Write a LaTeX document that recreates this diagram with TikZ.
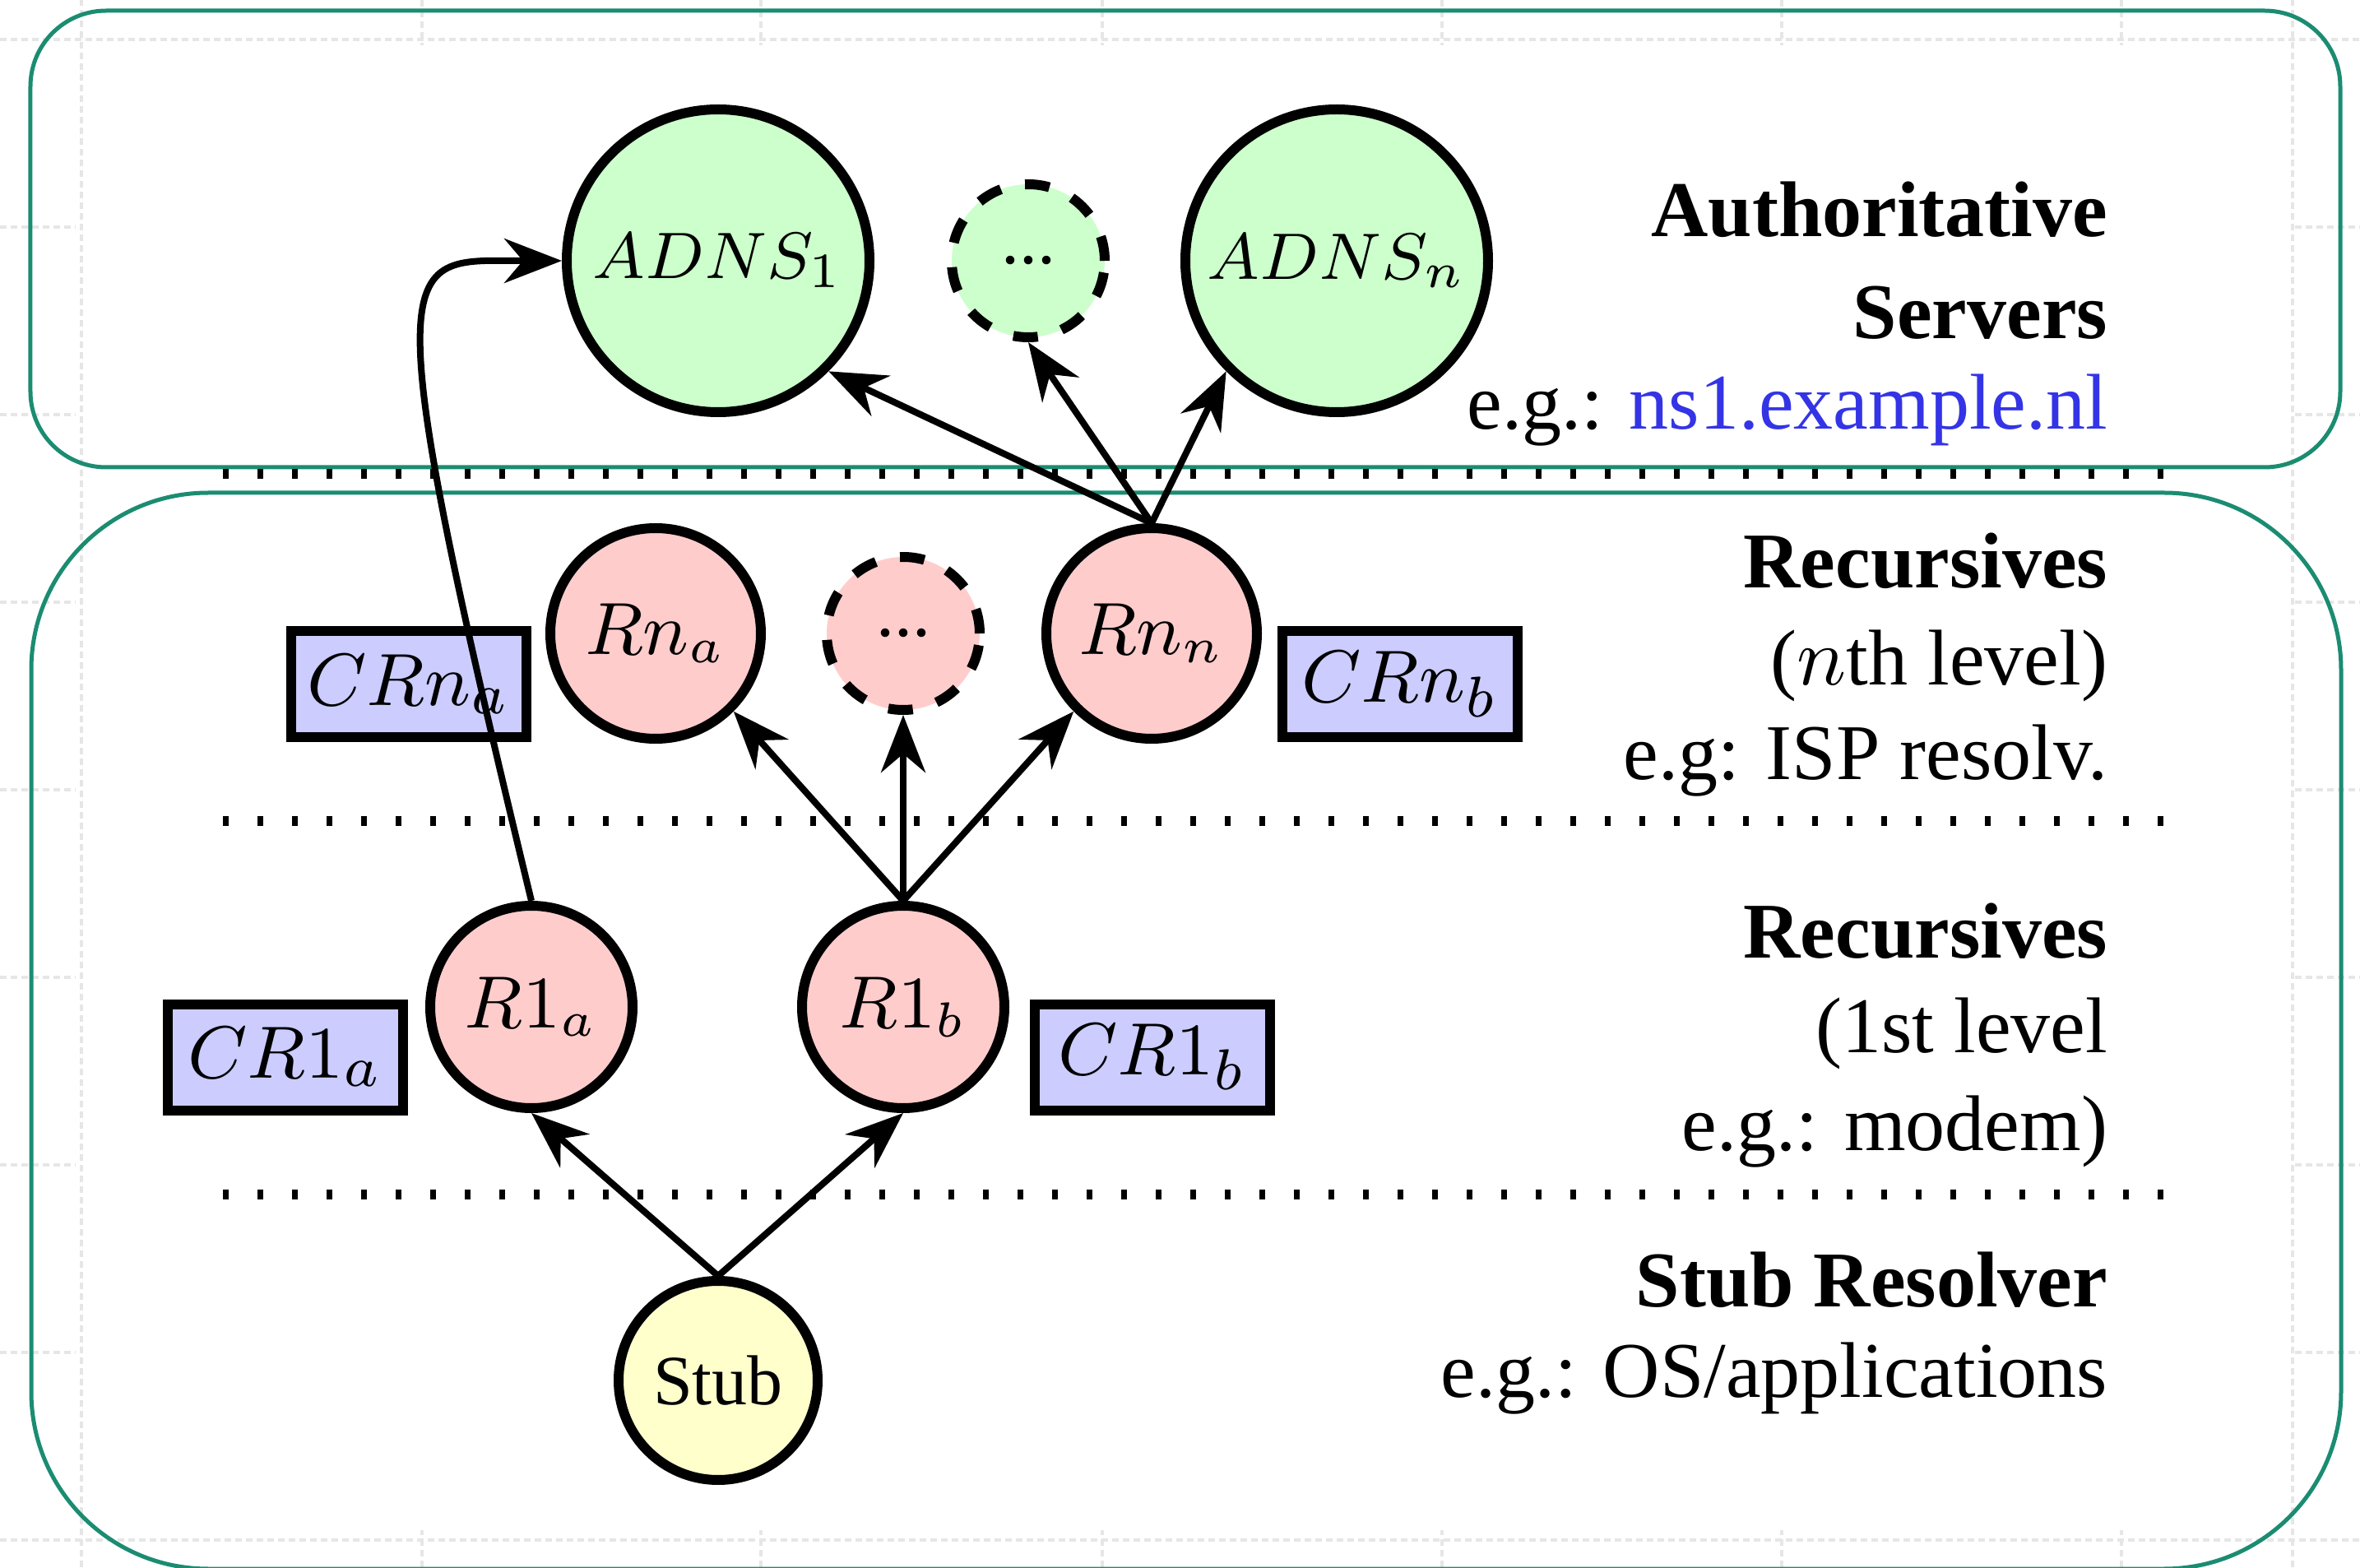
\documentclass[tikz,border=0pt]{standalone}
\usepackage[no-math]{fontspec}
\setmainfont{Liberation Serif}
\usetikzlibrary{arrows.meta}
\definecolor{zonegreen}{HTML}{1B8C72}
\definecolor{adnsfill}{HTML}{CCFFCC}
\definecolor{recfill}{HTML}{FFCCCC}
\definecolor{cachefill}{HTML}{CCCCFF}
\definecolor{stubfill}{HTML}{FFFFCC}
\definecolor{link}{HTML}{3434E6}
\definecolor{gridgray}{HTML}{E6E6E6}

\begin{document}
\begin{tikzpicture}[x=10pt,y=10pt,>={Stealth[length=7pt,width=5.4pt]},
  zone/.style={draw=zonegreen,line width=0.5pt},
  layersep/.style={line width=1.2pt,dash pattern=on 0.7pt off 3.5pt},
  gridline/.style={gridgray,line width=0.45pt,dash pattern=on 0.8pt off 0.5pt},
  adns/.style={circle,draw,very thick,fill=adnsfill,minimum size=36.8pt,inner sep=0pt,font=\fontsize{8.2}{9}\selectfont},
  rec/.style={circle,draw,very thick,fill=recfill,minimum size=25.6pt,inner sep=0pt,font=\fontsize{8.8}{10}\selectfont},
  more/.style={circle,draw,very thick,dashed,minimum size=18.6pt,inner sep=0pt,font=\fontsize{8.8}{10}\selectfont},
  cache/.style={rectangle,draw,very thick,fill=cachefill,minimum width=28.6pt,minimum height=12.9pt,inner sep=0pt,font=\fontsize{9.3}{10}\selectfont},
  stub/.style={circle,draw,very thick,fill=stubfill,minimum size=24.2pt,inner sep=0pt,font=\fontsize{8.6}{10}\selectfont},
  conn/.style={->,thick},
  lbl/.style={anchor=base east,inner sep=0pt,font=\fontsize{9.6}{11.5}\selectfont}]
\useasboundingbox (0,0) rectangle (28.69,19.05);

% faint background grid
\draw[gridline] (0.99,0) -- (0.99,19.05) (27.87,0) -- (27.87,19.05)
  (0,18.57) -- (28.69,18.57) (0,0.33) -- (28.69,0.33);
\foreach \y in {16.29,14.01,11.73,9.45,7.17,4.89,2.61}
  \draw[gridline] (0,\y) -- (0.92,\y) (27.9,\y) -- (28.69,\y);
\foreach \x in {5.13,9.25,13.40,17.53,21.66,25.79}
  \draw[gridline] (\x,19.05) -- (\x,18.5) (\x,0) -- (\x,0.45);

% the two zones
\draw[zone,rounded corners=9.2pt] (0.37,18.92) rectangle (28.45,13.37);
\draw[zone,rounded corners=21.5pt] (0.38,13.06) rectangle (28.46,-0.02);

% level separators
\foreach \y in {13.29,9.07,4.53}
  \draw[layersep] (2.71,\y) -- (26.53,\y);

% servers
\node[adns] (adns1) at (8.73,15.88) {$ADNS_1$};
\node[more,fill=adnsfill] (adnsdots) at (12.50,15.88) {...};
\node[adns] (adnsn) at (16.25,15.88) {$ADNS_n$};

\node[rec] (rna) at (7.97,11.35) {$Rn_a$};
\node[more,fill=recfill] (rdots) at (10.98,11.35) {...};
\node[rec] (rnn) at (14.00,11.35) {$Rn_n$};
\node[cache] (crna) at (4.97,10.73) {$CRn_a$};
\node[cache] (crnb) at (17.02,10.73) {$CRn_b$};

\node[rec,minimum size=24.6pt] (r1a) at (6.46,6.81) {$R1_a$};
\node[rec,minimum size=24.6pt] (r1b) at (10.98,6.81) {$R1_b$};
\node[cache] (cr1a) at (3.47,6.20) {$CR1_a$};
\node[cache] (cr1b) at (14.01,6.20) {$CR1_b$};

\node[stub] (stub) at (8.73,2.27) {Stub};

% queries
\draw[conn] (stub.north) -- (r1a.south);
\draw[conn] (stub.north) -- (r1b.south);
\draw[conn] (r1b.north) -- (rna.south east);
\draw[conn] (r1b.north) -- (rdots.south);
\draw[conn] (r1b.north) -- (rnn.south west);
\draw[conn] (rnn.north) -- (adns1.south east);
\draw[conn] (rnn.north) -- (adnsdots.south);
\draw[conn] (rnn.north) -- (adnsn.south west);
\draw[conn] (r1a.north) .. controls +(-1.97,8.13) and +(-1.98,0) .. (adns1.west);

% level labels
\node[lbl] (authA) at (25.64,16.17) {\bfseries Authoritative};
\node[lbl] (authB) at (25.64,14.93) {\bfseries Servers};
\node[lbl] (authC) at (25.64,13.83) {e.g.: \textcolor{link}{ns1.example.nl}};
\node[lbl] (recnA) at (25.64,11.90) {\bfseries Recursives};
\node[lbl] (recnB) at (25.64,10.73) {($n$th level)};
\node[lbl] (recnC) at (25.64,9.58) {e.g: ISP resolv.};
\node[lbl] (rec1A) at (25.64,7.41) {\bfseries Recursives};
\node[lbl] (rec1B) at (25.64,6.26) {(1st level};
\node[lbl] (rec1C) at (25.64,5.07) {e.g.: modem)};
\node[lbl] (stubA) at (25.64,3.17) {\bfseries Stub Resolver};
\node[lbl] (stubB) at (25.64,2.07) {e.g.: OS/applications};
\end{tikzpicture}
\end{document}
